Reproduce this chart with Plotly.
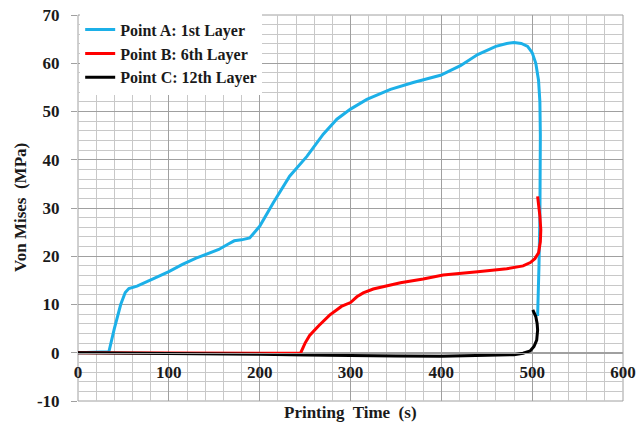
import plotly.graph_objects as go

# Point A: 1st Layer
a_t = [0, 20, 34, 40, 47, 52, 56, 65, 75, 85, 100, 115, 130, 145, 155, 165, 172, 180, 189,
       200, 215, 233, 252, 270, 285, 300, 318, 344, 369, 399, 421, 440, 460, 472, 480, 488,
       495, 500, 504, 507, 508.5, 509, 509, 508.5, 507.5, 506]
a_v = [0, 0.1, 0.2, 5, 10, 12.5, 13.3, 13.8, 14.6, 15.5, 16.8, 18.3, 19.6, 20.6, 21.4, 22.5,
       23.2, 23.4, 23.8, 26.2, 31.1, 36.6, 40.7, 45.3, 48.4, 50.5, 52.5, 54.6, 56.0, 57.5,
       59.5, 61.8, 63.5, 64.1, 64.3, 64.1, 63.5, 62.2, 60.0, 56.5, 52, 45, 35, 28, 18, 7.6]

# Point B: 6th Layer
b_t = [0, 100, 200, 240, 245, 250, 255, 265, 277, 290, 300, 307, 314, 325, 340, 355, 380,
       402, 440, 472, 490, 498, 503, 507, 509, 509.5, 508.5, 507, 506]
b_v = [0, 0, 0, -0.1, -0.1, 2.0, 3.6, 5.6, 7.8, 9.6, 10.4, 11.6, 12.4, 13.2, 13.9, 14.5,
       15.3, 16.1, 16.8, 17.4, 18.0, 18.7, 19.5, 20.7, 23, 25.5, 28.3, 30.5, 32.4]

# Point C: 12th Layer
c_t = [0, 50, 100, 150, 200, 250, 300, 350, 400, 450, 480, 490, 498, 502, 505, 506, 505.5,
       504, 500.7]
c_v = [0, -0.05, -0.1, -0.2, -0.3, -0.45, -0.6, -0.65, -0.7, -0.6, -0.4, -0.1, 0.4, 1.3, 2.6,
       4.7, 6.0, 7.5, 8.9]

x_ticks = [0, 100, 200, 300, 400, 500, 600]
y_ticks = [-10, 0, 10, 20, 30, 40, 50, 60, 70]
y_tick_text = ["-10", "0", "10", "20", "30", "40", "50", "60", "70"]

FONT = "Liberation Serif"
GRID = "#c8c8c8"
MAJOR = "#a0a0a0"
TXT = "#1a1a1a"

fig = go.Figure()
fig.add_trace(go.Scatter(x=a_t, y=a_v, mode="lines", name="Point A: 1st Layer",
                         line=dict(color="#1cb0e8", width=3)))
fig.add_trace(go.Scatter(x=b_t, y=b_v, mode="lines", name="Point B: 6th Layer",
                         line=dict(color="#ff0000", width=3)))
fig.add_trace(go.Scatter(x=c_t, y=c_v, mode="lines", name="Point C: 12th Layer",
                         line=dict(color="#000000", width=3)))

fig.update_layout(
    width=638, height=425,
    margin=dict(l=78, r=15, t=15, b=24, autoexpand=False),
    paper_bgcolor="white", plot_bgcolor="white",
    font=dict(family=FONT, size=17, color=TXT, weight="bold"),
    showlegend=True,
    legend=dict(x=0.004, y=1.006, xanchor="left", yanchor="top", bgcolor="white",
                borderwidth=0, font=dict(family=FONT, size=16, color=TXT, weight="bold"),
                itemwidth=30, tracegroupgap=0),
    xaxis=dict(range=[0, 600], tickvals=x_ticks,
               showgrid=True, gridcolor=MAJOR, gridwidth=1,
               minor=dict(dtick=20, tick0=0, showgrid=True, gridcolor=GRID, gridwidth=1),
               anchor="free", position=0.125, showline=True, linecolor=MAJOR, linewidth=1,
               zeroline=False, ticks="", automargin=False, ticklabelstandoff=4,
               tickfont=dict(family=FONT, size=17, color=TXT, weight="bold")),
    yaxis=dict(range=[-10, 70], tickvals=y_ticks, ticktext=y_tick_text,
               showgrid=True, gridcolor=MAJOR, gridwidth=1,
               minor=dict(dtick=2, tick0=0, showgrid=True, gridcolor=GRID, gridwidth=1),
               zeroline=False, ticks="outside", ticklen=6, tickcolor=MAJOR, automargin=False,
               ticklabelstandoff=8,
               tickfont=dict(family=FONT, size=17, color=TXT, weight="bold")),
)
fig.add_shape(type="rect", xref="x domain", yref="y domain", x0=0, x1=1, y0=0, y1=1,
              line=dict(color=MAJOR, width=1), layer="below")
fig.add_annotation(text="Printing  Time  (s)", xref="paper", yref="paper",
                   x=0.5, y=-0.031, xanchor="center", yanchor="middle", showarrow=False,
                   font=dict(family=FONT, size=17, color=TXT, weight="bold"))
fig.add_annotation(text="Von Mises  (MPa)", xref="paper", yref="paper",
                   x=-0.1064, y=0.5, xanchor="center", yanchor="middle", showarrow=False,
                   textangle=-90,
                   font=dict(family=FONT, size=17, color=TXT, weight="bold"))

fig.write_html("out.html", config={"displayModeBar": False},
               post_script="document.body.style.margin='0';document.body.style.overflow='hidden';")
